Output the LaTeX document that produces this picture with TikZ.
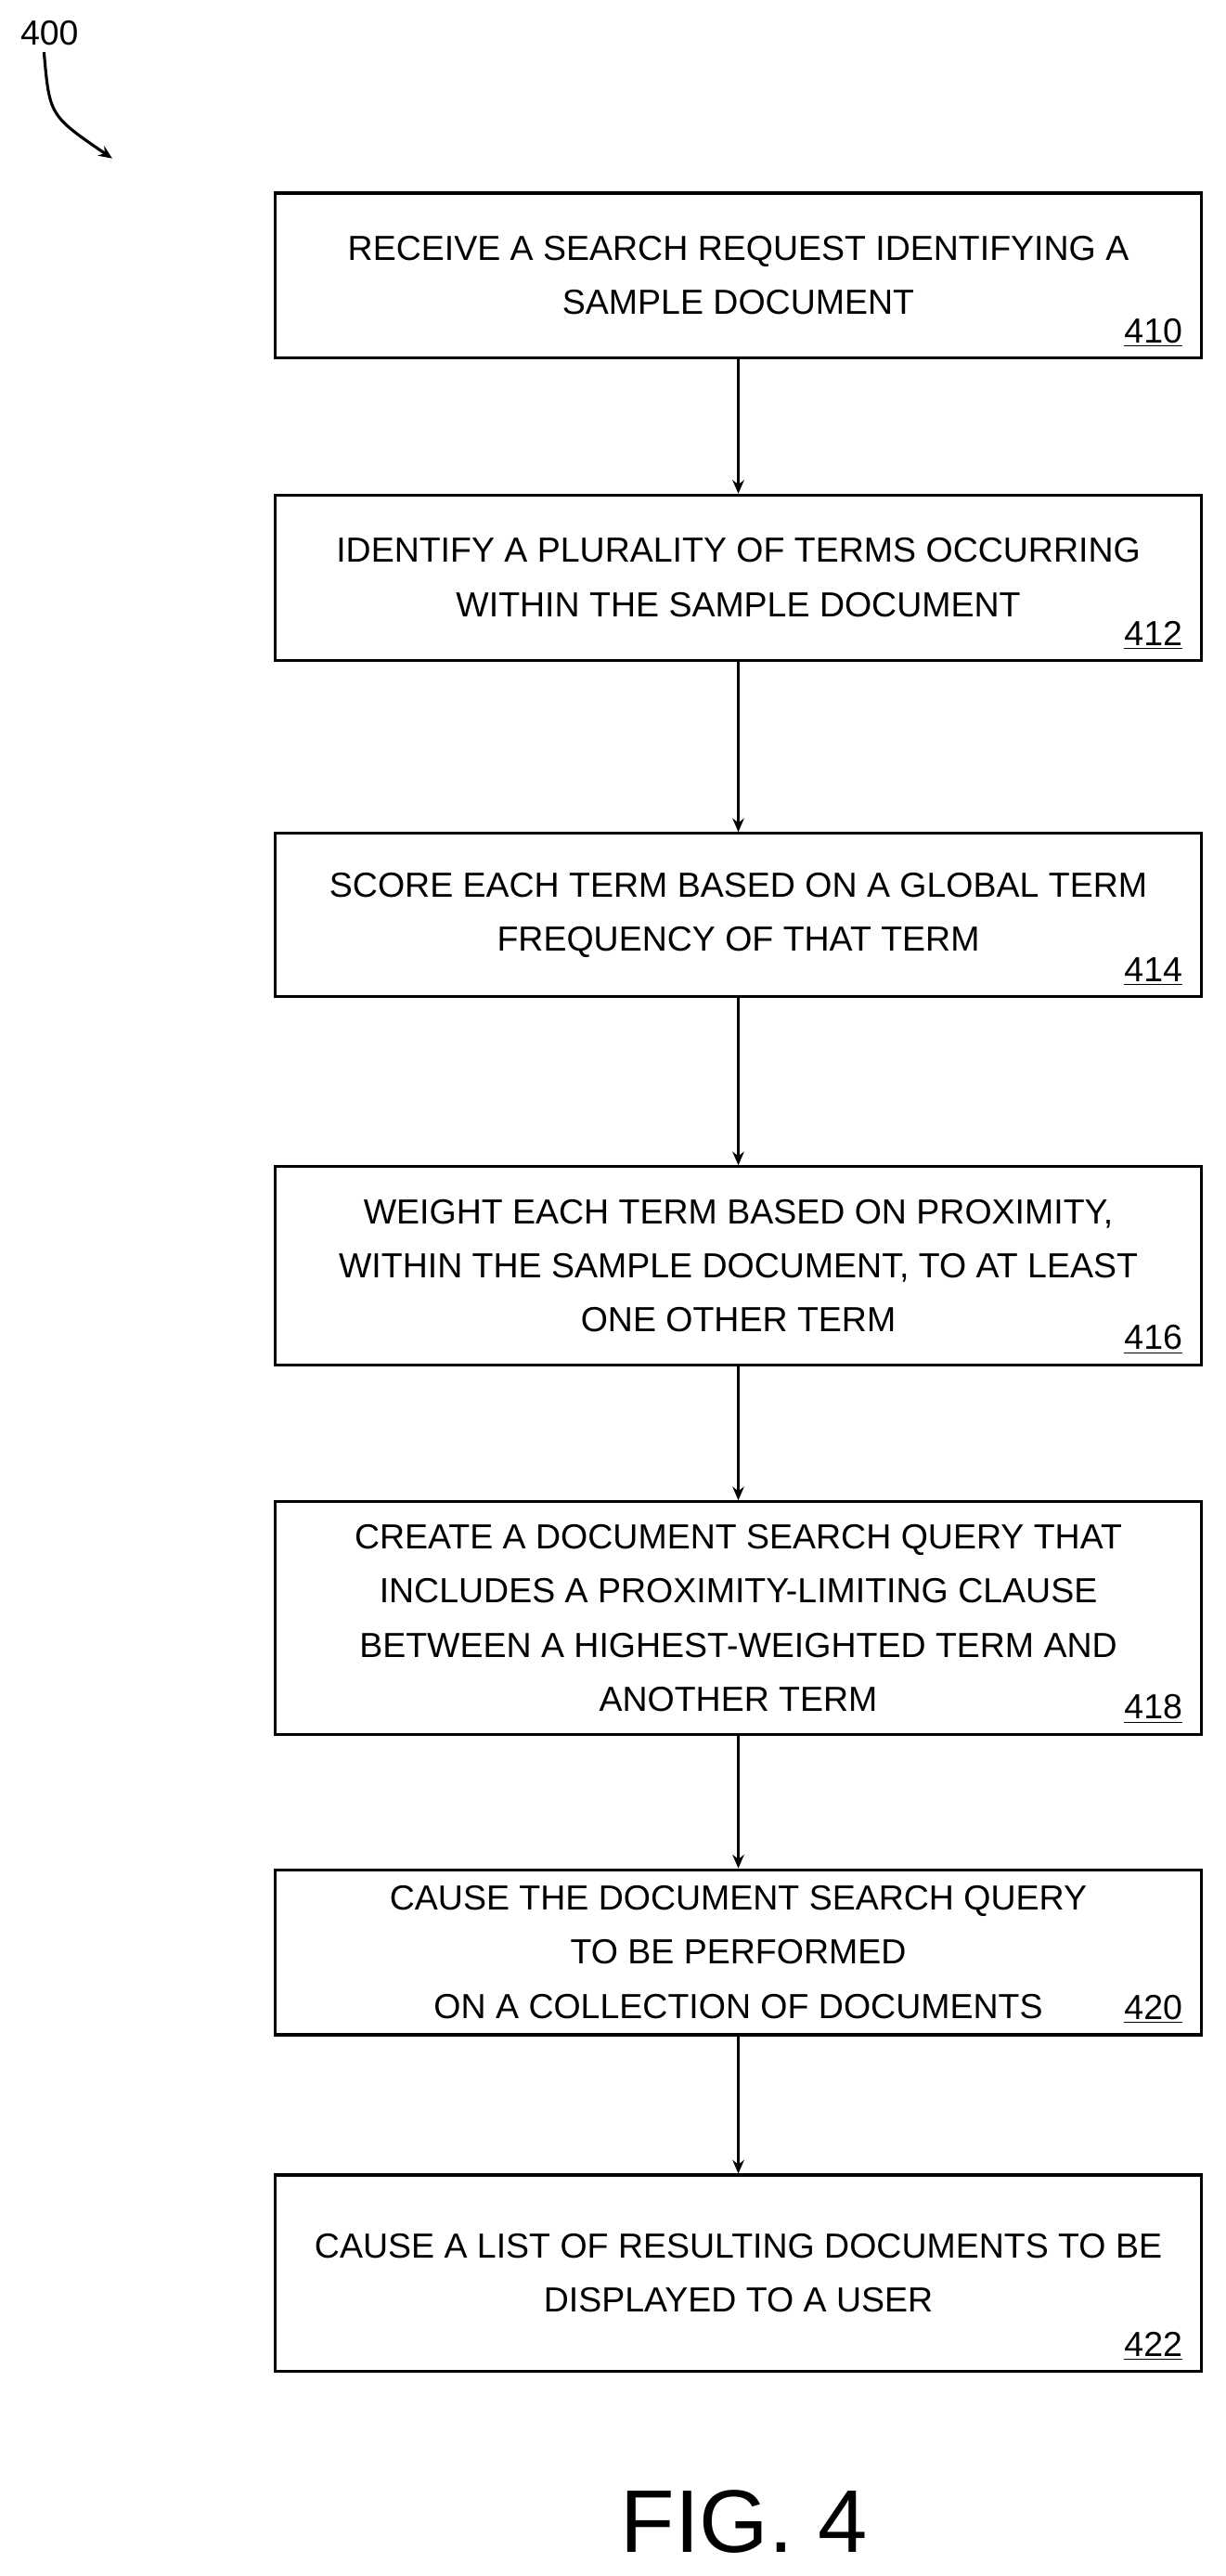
\documentclass[tikz,border=0pt]{standalone}
\usepackage{fontspec}
\setmainfont{Liberation Sans}
\usetikzlibrary{positioning,arrows.meta}
\tikzset{
  flowstep/.style={draw, line width=1.5pt, minimum width=16.85cm, align=center,
    font=\fontsize{18}{28}\selectfont},
  ref/.style={anchor=south east, font=\fontsize{18}{20}\selectfont, inner sep=2pt},
  flow/.style={-{Stealth[length=7pt,width=6pt]}, line width=1.5pt}
}
\newcommand{\stepref}[2]{\node[ref] at ([xshift=-0.3cm,yshift=0.15cm]#1.south east) {\underline{#2}};}
\begin{document}
\begin{tikzpicture}[x=0.03cm, y=-0.03cm]
  \useasboundingbox (0,0) rectangle (743,1561);
  \node[flowstep, minimum height=3cm] (s410) at (447.5,167) {RECEIVE A SEARCH REQUEST IDENTIFYING A\\SAMPLE DOCUMENT};
  \node[flowstep, minimum height=3cm] (s412) at (447.5,350) {IDENTIFY A PLURALITY OF TERMS OCCURRING\\WITHIN THE SAMPLE DOCUMENT};
  \node[flowstep, minimum height=2.97cm] (s414) at (447.5,554.5) {SCORE EACH TERM BASED ON A GLOBAL TERM\\FREQUENCY OF THAT TERM};
  \node[flowstep, minimum height=3.6cm] (s416) at (447.5,767) {WEIGHT EACH TERM BASED ON PROXIMITY,\\WITHIN THE SAMPLE DOCUMENT, TO AT LEAST\\ONE OTHER TERM};
  \node[flowstep, minimum height=4.23cm] (s418) at (447.5,980.5) {CREATE A DOCUMENT SEARCH QUERY THAT\\INCLUDES A PROXIMITY-LIMITING CLAUSE\\BETWEEN A HIGHEST-WEIGHTED TERM AND\\ANOTHER TERM};
  \node[flowstep, minimum height=3cm] (s420) at (447.5,1183) {CAUSE THE DOCUMENT SEARCH QUERY\\TO BE PERFORMED\\ON A COLLECTION OF DOCUMENTS};
  \node[flowstep, minimum height=3.57cm] (s422) at (447.5,1377.5) {CAUSE A LIST OF RESULTING DOCUMENTS TO BE\\DISPLAYED TO A USER};
  \stepref{s410}{410}
  \stepref{s412}{412}
  \stepref{s414}{414}
  \stepref{s416}{416}
  \stepref{s418}{418}
  \stepref{s420}{420}
  \stepref{s422}{422}
  \draw[flow] (s410) -- (s412);
  \draw[flow] (s412) -- (s414);
  \draw[flow] (s414) -- (s416);
  \draw[flow] (s416) -- (s418);
  \draw[flow] (s418) -- (s420);
  \draw[flow] (s420) -- (s422);
  % figure label and number
  \node[font=\fontsize{46}{50}\selectfont] (fig) at (451,1528) {FIG. 4};
  \node[font=\fontsize{18}{20}\selectfont] (num) at (30,20) {400};
  \coordinate (numtip) at (68,96);
  \draw[flow] ([xshift=-0.1cm]num.south) .. controls (30,70) .. (numtip);
\end{tikzpicture}
\end{document}
